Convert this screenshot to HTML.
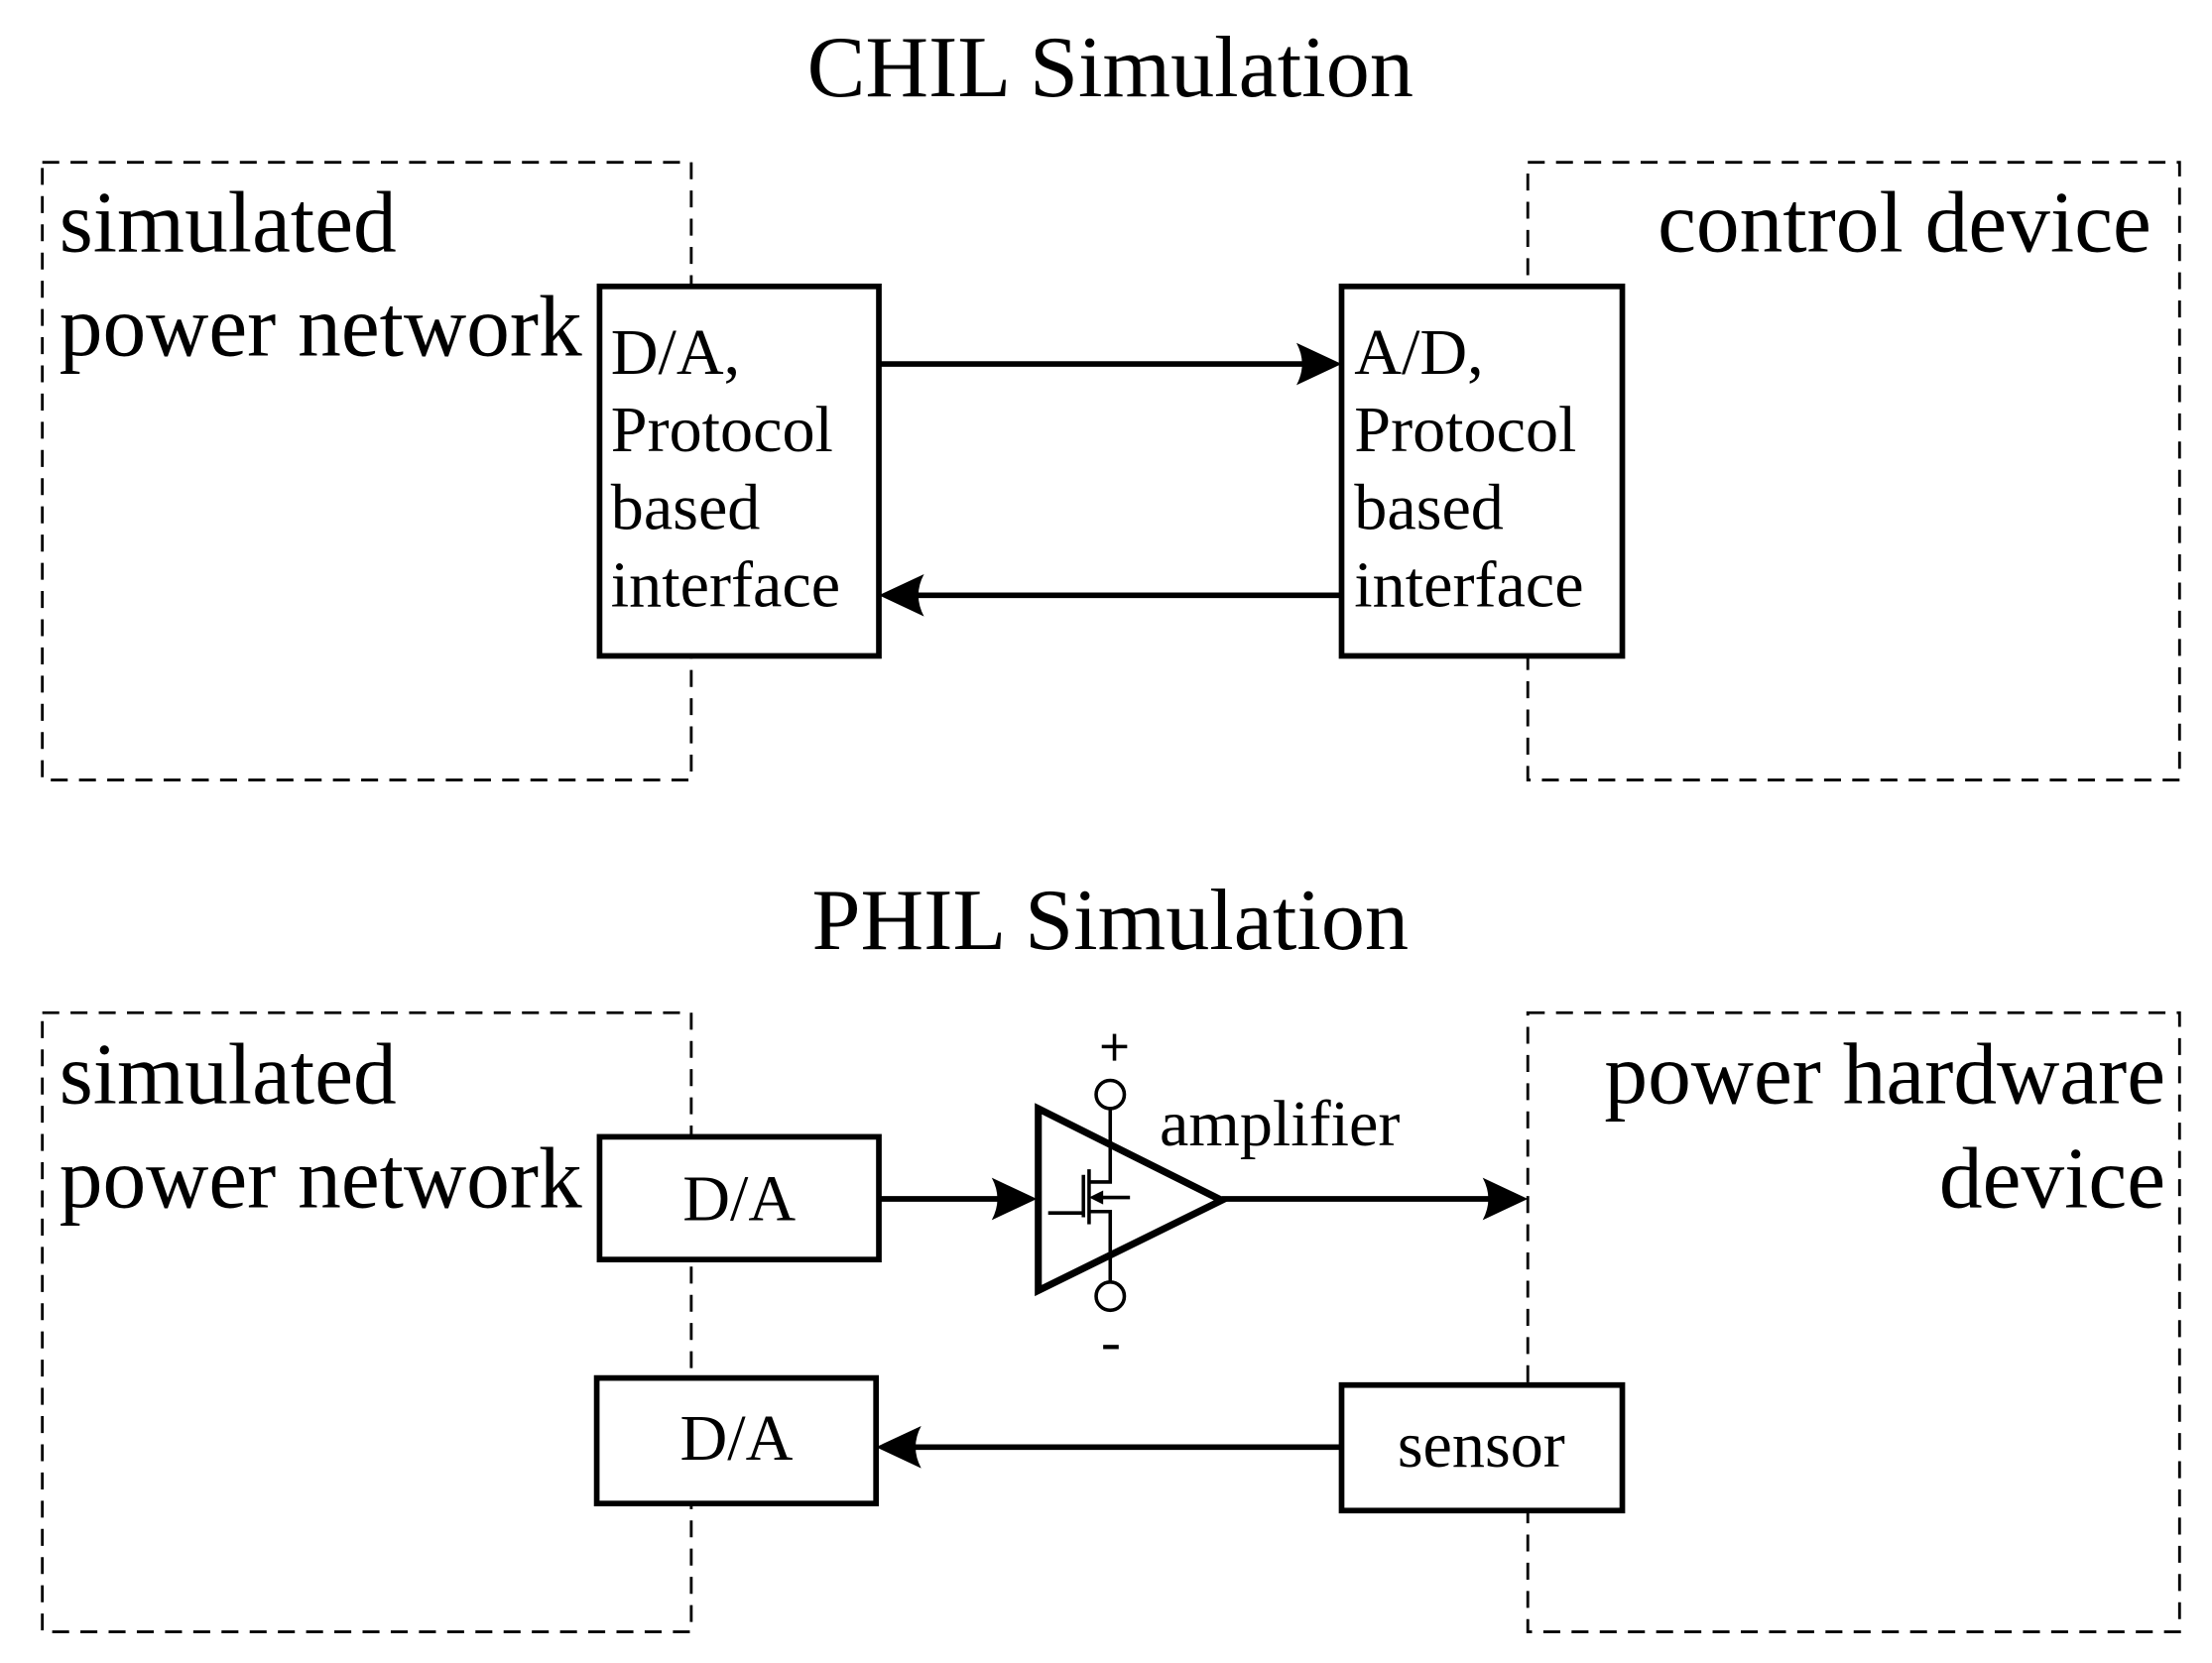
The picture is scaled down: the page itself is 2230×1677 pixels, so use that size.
<!DOCTYPE html>
<html><head><meta charset="utf-8"><style>html,body{margin:0;padding:0;background:#fff}svg{display:block}</style></head>
<body>
<svg width="2230" height="1677" viewBox="0 0 1568 1179" xmlns="http://www.w3.org/2000/svg" font-family="Liberation Serif, serif" fill="#000">
<defs>
<path id="ar" d="M0,0 L-32,-15 Q-24,0 -32,15 Z"/>
</defs>
<g fill="none" stroke="#000" stroke-width="2" stroke-dasharray="12,8">
<rect x="30" y="115" width="460" height="438"/>
<rect x="1083" y="115" width="462" height="438"/>
<rect x="30" y="718" width="460" height="439"/>
<rect x="1083" y="718" width="462" height="439"/>
</g>
<g fill="#fff" stroke="#000" stroke-width="4">
<rect x="425" y="203" width="198" height="262"/>
<rect x="951" y="203" width="199" height="262"/>
<rect x="425" y="806" width="198" height="87"/>
<rect x="423" y="977" width="198" height="89"/>
<rect x="951" y="982" width="199" height="89"/>
</g>
<text x="787" y="68" font-size="62" text-anchor="middle">CHIL Simulation</text>
<text x="787" y="673" font-size="62" text-anchor="middle">PHIL Simulation</text>
<g font-size="61.5">
<text x="42" y="178">simulated</text>
<text x="42" y="252">power network</text>
<text x="1525" y="178" text-anchor="end">control device</text>
<text x="42" y="782">simulated</text>
<text x="42" y="856">power network</text>
<text x="1535" y="782" text-anchor="end">power hardware</text>
<text x="1535" y="856" text-anchor="end">device</text>
</g>
<g font-size="46.5">
<text x="433" y="265">D/A,</text><text x="433" y="320">Protocol</text><text x="433" y="375">based</text><text x="433" y="430">interface</text>
<text x="960" y="265">A/D,</text><text x="960" y="320">Protocol</text><text x="960" y="375">based</text><text x="960" y="430">interface</text>
<text x="524" y="865" text-anchor="middle">D/A</text>
<text x="522" y="1035" text-anchor="middle">D/A</text>
<text x="1050" y="1040" text-anchor="middle">sensor</text>
<text x="822" y="812">amplifier</text>
</g>
<g stroke="#000" stroke-width="4">
<line x1="623" y1="258" x2="930" y2="258"/>
<line x1="951" y1="422" x2="645" y2="422"/>
<line x1="623" y1="850" x2="715" y2="850"/>
<line x1="866" y1="850" x2="1060" y2="850"/>
<line x1="951" y1="1026" x2="643" y2="1026"/>
</g>
<use href="#ar" transform="translate(951,258)"/>
<use href="#ar" transform="translate(623,422) rotate(180)"/>
<use href="#ar" transform="translate(735,850)"/>
<use href="#ar" transform="translate(1083,850)"/>
<use href="#ar" transform="translate(621,1026) rotate(180)"/>
<polygon points="736,786 866,851 736,915" fill="none" stroke="#000" stroke-width="5" stroke-linejoin="miter"/>
<g stroke="#000" stroke-width="2.5" fill="none">
<circle cx="787" cy="776" r="10"/>
<circle cx="787" cy="919" r="10"/>
<polyline points="787,786 787,838 772,838"/>
<polyline points="787,909 787,859 772,859"/>
<line x1="772" y1="829" x2="772" y2="868"/>
<line x1="768" y1="833" x2="768" y2="863"/>
<line x1="743" y1="860" x2="768" y2="860"/>
<line x1="780" y1="849" x2="801" y2="849"/>
<line x1="781" y1="742" x2="799" y2="742"/>
<line x1="790" y1="733" x2="790" y2="752"/>
<line x1="782" y1="955" x2="793" y2="955" stroke-width="3"/>
</g>
<polygon points="772,849 782,844 782,854"/>
</svg>
</body></html>
